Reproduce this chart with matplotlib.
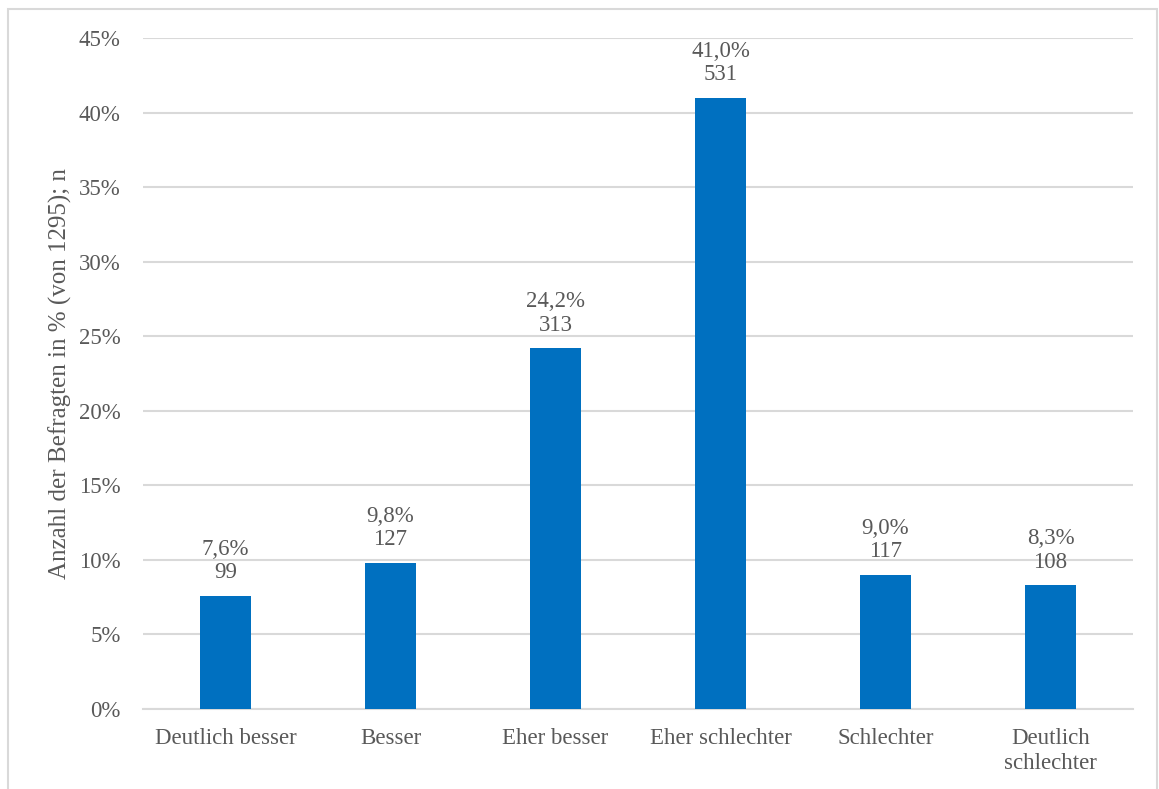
import matplotlib
matplotlib.use("Agg")
import matplotlib.pyplot as plt
from matplotlib.patches import Rectangle

categories = ["Deutlich besser", "Besser", "Eher besser", "Eher schlechter",
              "Schlechter", "Deutlich\nschlechter"]
percent = [7.6, 9.8, 24.2, 41.0, 9.0, 8.3]
counts = [99, 127, 313, 531, 117, 108]
y_ticks = [0, 5, 10, 15, 20, 25, 30, 35, 40, 45]

plt.rcParams["font.family"] = ["Liberation Serif", "DejaVu Serif"]
text_color = "#595959"
bar_color = "#0070C0"
grid_color = "#D9D9D9"
fs = 16.5

W, H = 1159, 789
fig = plt.figure(figsize=(W / 100, H / 100), dpi=100)
fig.patch.set_facecolor("white")

# outer chart frame
fig.patches.append(Rectangle((8 / W, -0.05), (1157 - 8) / W, (H - 9) / H + 0.05,
                             transform=fig.transFigure, fill=False,
                             edgecolor="#D9D9D9", linewidth=1.5))

left, right = 143 / W, 1133 / W
bottom, top = 1 - 709 / H, 1 - 38 / H
ax = fig.add_axes([left, bottom, right - left, top - bottom])

x = range(len(categories))
ax.bar(x, percent, width=0.315, color=bar_color, zorder=3)

for xi, p, n in zip(x, percent, counts):
    ax.annotate(f"{p:.1f}%".replace(".", ",") + f"\n{n}", (xi, p),
                xytext=(0, 9), textcoords="offset points",
                ha="center", va="bottom", fontsize=fs, color=text_color,
                linespacing=1.15, zorder=4)

ax.set_xlim(-0.5, len(categories) - 0.5)
ax.set_ylim(0, 45)
ax.set_yticks(y_ticks)
ax.set_yticklabels([f"{t}%" for t in y_ticks])
ax.set_xticks(list(x))
ax.set_xticklabels(categories, linespacing=1.2)

ax.yaxis.grid(True, color=grid_color, linewidth=1.5, zorder=0)
ax.set_axisbelow(True)
for side in ["top", "right", "left"]:
    ax.spines[side].set_visible(False)
ax.spines["bottom"].set_color(grid_color)
ax.spines["bottom"].set_linewidth(1.5)
ax.tick_params(axis="both", length=0, labelsize=fs, labelcolor=text_color)
ax.tick_params(axis="y", pad=16)
ax.tick_params(axis="x", pad=14)

ax.set_ylabel("Anzahl der Befragten in % (von 1295); n", fontsize=18,
              color=text_color, labelpad=5)

fig.savefig("out.png", dpi=100)
